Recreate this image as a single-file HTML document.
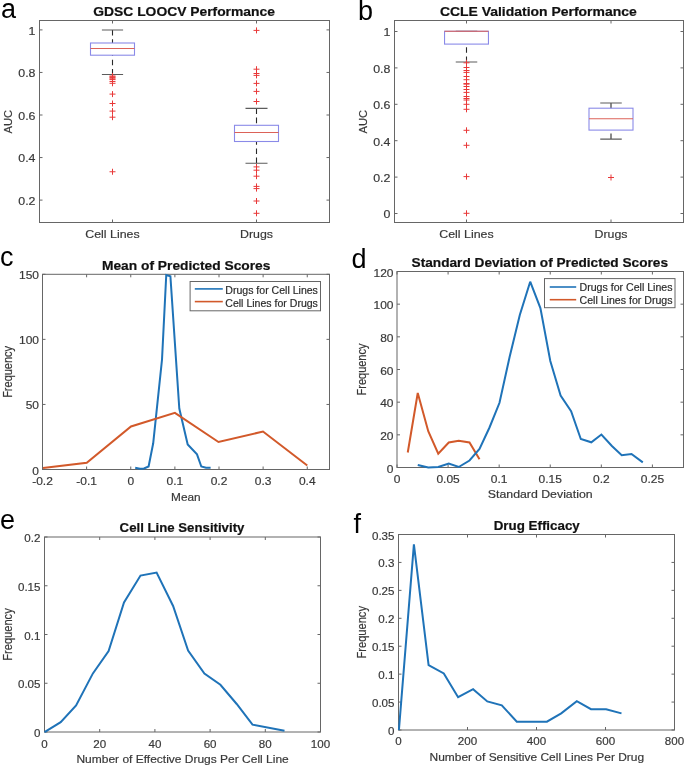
<!DOCTYPE html><html><head><meta charset="utf-8"><style>html,body{margin:0;padding:0;background:#fff;}svg{display:block;filter:blur(0.3px);}text{font-family:"Liberation Sans",sans-serif;}</style></head><body>
<svg width="685" height="767" viewBox="0 0 685 767">
<rect width="685" height="767" fill="#fff"/>
<text x="1.00" y="17.70" font-size="27" text-anchor="start" fill="#000">a</text>
<text x="358.00" y="20.40" font-size="27" text-anchor="start" fill="#000">b</text>
<text x="0.00" y="265.70" font-size="27" text-anchor="start" fill="#000">c</text>
<text x="351.50" y="267.80" font-size="27" text-anchor="start" fill="#000">d</text>
<text x="0.00" y="528.90" font-size="27" text-anchor="start" fill="#000">e</text>
<text x="353.50" y="532.70" font-size="27" text-anchor="start" fill="#000">f</text>
<path d="M112.50 222.50v-3.0M112.50 20.50v3.0M256.50 222.50v-3.0M256.50 20.50v3.0M39.50 200.10h3.0M329.50 200.10h-3.0M39.50 157.55h3.0M329.50 157.55h-3.0M39.50 115.00h3.0M329.50 115.00h-3.0M39.50 72.45h3.0M329.50 72.45h-3.0M39.50 29.90h3.0M329.50 29.90h-3.0" stroke="#666" stroke-width="1" fill="none"/>
<rect x="39.50" y="20.50" width="290.00" height="202.00" stroke="#666" stroke-width="1" fill="none"/>
<text x="35.50" y="205.00" font-size="11.8" text-anchor="end" fill="#383838" textLength="17.22" lengthAdjust="spacingAndGlyphs" stroke="#383838" stroke-width="0.18">0.2</text>
<text x="35.50" y="162.45" font-size="11.8" text-anchor="end" fill="#383838" textLength="17.22" lengthAdjust="spacingAndGlyphs" stroke="#383838" stroke-width="0.18">0.4</text>
<text x="35.50" y="119.90" font-size="11.8" text-anchor="end" fill="#383838" textLength="17.22" lengthAdjust="spacingAndGlyphs" stroke="#383838" stroke-width="0.18">0.6</text>
<text x="35.50" y="77.35" font-size="11.8" text-anchor="end" fill="#383838" textLength="17.22" lengthAdjust="spacingAndGlyphs" stroke="#383838" stroke-width="0.18">0.8</text>
<text x="35.50" y="34.80" font-size="11.8" text-anchor="end" fill="#383838" textLength="6.89" lengthAdjust="spacingAndGlyphs" stroke="#383838" stroke-width="0.18">1</text>
<text x="112.50" y="238.10" font-size="11.8" text-anchor="middle" fill="#383838" textLength="54.41" lengthAdjust="spacingAndGlyphs" stroke="#383838" stroke-width="0.18">Cell Lines</text>
<text x="256.50" y="238.10" font-size="11.8" text-anchor="middle" fill="#383838" textLength="33.05" lengthAdjust="spacingAndGlyphs" stroke="#383838" stroke-width="0.18">Drugs</text>
<text x="0" y="0" font-size="11.1" text-anchor="middle" fill="#383838" stroke="#383838" stroke-width="0.18" transform="translate(11.60 121.70) scale(1.05 1) rotate(-90)">AUC</text>
<text x="184.10" y="15.50" font-size="12.6" text-anchor="middle" fill="#111" font-weight="bold" textLength="181.60" lengthAdjust="spacingAndGlyphs" stroke="#111" stroke-width="0.2">GDSC LOOCV Performance</text>
<path d="M112.50 30.00V43.00M112.50 74.50V55.20" stroke="#2a2a2a" stroke-width="1.1" stroke-dasharray="5.6,3.6" fill="none"/>
<path d="M101.90 30.00h21.2M101.90 74.50h21.2" stroke="#5c5c5c" stroke-width="1.1" fill="none"/>
<rect x="90.50" y="43.00" width="44.00" height="12.20" stroke="#8a8ae8" stroke-width="1.1" fill="none"/>
<path d="M90.50 48.50h44.0" stroke="#dc6258" stroke-width="1.1" fill="none"/>
<path d="M109.50 76.00h6.0M112.50 73.00v6.0M109.50 76.80h6.0M112.50 73.80v6.0M109.50 77.60h6.0M112.50 74.60v6.0M109.50 78.80h6.0M112.50 75.80v6.0M109.50 79.60h6.0M112.50 76.60v6.0M109.50 81.50h6.0M112.50 78.50v6.0M109.50 83.30h6.0M112.50 80.30v6.0M109.50 94.10h6.0M112.50 91.10v6.0M109.50 103.50h6.0M112.50 100.50v6.0M109.50 111.10h6.0M112.50 108.10v6.0M109.50 117.20h6.0M112.50 114.20v6.0M109.50 171.75h6.0M112.50 168.75v6.0" stroke="#e83838" stroke-width="1" fill="none"/>
<path d="M256.50 108.40V125.30M256.50 163.20V141.50" stroke="#2a2a2a" stroke-width="1.1" stroke-dasharray="5.6,3.6" fill="none"/>
<path d="M245.50 108.40h22.0M245.50 163.20h22.0" stroke="#5c5c5c" stroke-width="1.1" fill="none"/>
<rect x="234.50" y="125.30" width="44.00" height="16.20" stroke="#8a8ae8" stroke-width="1.1" fill="none"/>
<path d="M234.50 132.50h44.0" stroke="#dc6258" stroke-width="1.1" fill="none"/>
<path d="M253.50 30.40h6.0M256.50 27.40v6.0M253.50 69.20h6.0M256.50 66.20v6.0M253.50 73.50h6.0M256.50 70.50v6.0M253.50 75.40h6.0M256.50 72.40v6.0M253.50 83.40h6.0M256.50 80.40v6.0M253.50 91.40h6.0M256.50 88.40v6.0M253.50 101.50h6.0M256.50 98.50v6.0M253.50 166.90h6.0M256.50 163.90v6.0M253.50 170.20h6.0M256.50 167.20v6.0M253.50 176.20h6.0M256.50 173.20v6.0M253.50 186.40h6.0M256.50 183.40v6.0M253.50 188.60h6.0M256.50 185.60v6.0M253.50 201.00h6.0M256.50 198.00v6.0M253.50 213.30h6.0M256.50 210.30v6.0" stroke="#e83838" stroke-width="1" fill="none"/>
<path d="M466.50 222.50v-3.0M466.50 20.50v3.0M611.00 222.50v-3.0M611.00 20.50v3.0M394.50 213.50h3.0M683.50 213.50h-3.0M394.50 177.10h3.0M683.50 177.10h-3.0M394.50 140.70h3.0M683.50 140.70h-3.0M394.50 104.30h3.0M683.50 104.30h-3.0M394.50 67.90h3.0M683.50 67.90h-3.0M394.50 31.50h3.0M683.50 31.50h-3.0" stroke="#666" stroke-width="1" fill="none"/>
<rect x="394.50" y="20.50" width="289.00" height="202.00" stroke="#666" stroke-width="1" fill="none"/>
<text x="390.40" y="218.40" font-size="11.8" text-anchor="end" fill="#383838" textLength="6.89" lengthAdjust="spacingAndGlyphs" stroke="#383838" stroke-width="0.18">0</text>
<text x="390.40" y="182.00" font-size="11.8" text-anchor="end" fill="#383838" textLength="17.22" lengthAdjust="spacingAndGlyphs" stroke="#383838" stroke-width="0.18">0.2</text>
<text x="390.40" y="145.60" font-size="11.8" text-anchor="end" fill="#383838" textLength="17.22" lengthAdjust="spacingAndGlyphs" stroke="#383838" stroke-width="0.18">0.4</text>
<text x="390.40" y="109.20" font-size="11.8" text-anchor="end" fill="#383838" textLength="17.22" lengthAdjust="spacingAndGlyphs" stroke="#383838" stroke-width="0.18">0.6</text>
<text x="390.40" y="72.80" font-size="11.8" text-anchor="end" fill="#383838" textLength="17.22" lengthAdjust="spacingAndGlyphs" stroke="#383838" stroke-width="0.18">0.8</text>
<text x="390.40" y="36.40" font-size="11.8" text-anchor="end" fill="#383838" textLength="6.89" lengthAdjust="spacingAndGlyphs" stroke="#383838" stroke-width="0.18">1</text>
<text x="466.50" y="238.10" font-size="11.8" text-anchor="middle" fill="#383838" textLength="54.41" lengthAdjust="spacingAndGlyphs" stroke="#383838" stroke-width="0.18">Cell Lines</text>
<text x="611.00" y="238.10" font-size="11.8" text-anchor="middle" fill="#383838" textLength="33.05" lengthAdjust="spacingAndGlyphs" stroke="#383838" stroke-width="0.18">Drugs</text>
<text x="0" y="0" font-size="11.1" text-anchor="middle" fill="#383838" stroke="#383838" stroke-width="0.18" transform="translate(366.60 121.70) scale(1.05 1) rotate(-90)">AUC</text>
<text x="538.30" y="15.60" font-size="12.6" text-anchor="middle" fill="#111" font-weight="bold" textLength="196.80" lengthAdjust="spacingAndGlyphs" stroke="#111" stroke-width="0.2">CCLE Validation Performance</text>
<path d="M466.50 31.30V31.30M466.50 62.00V44.10" stroke="#2a2a2a" stroke-width="1.1" stroke-dasharray="5.6,3.6" fill="none"/>
<path d="M455.75 31.30h21.5M455.75 62.00h21.5" stroke="#5c5c5c" stroke-width="1.1" fill="none"/>
<rect x="444.55" y="31.30" width="43.90" height="12.80" stroke="#8a8ae8" stroke-width="1.1" fill="none"/>
<path d="M444.55 31.30h43.9" stroke="#dc6258" stroke-width="1.1" fill="none"/>
<path d="M463.50 62.80h6.0M466.50 59.80v6.0M463.50 67.50h6.0M466.50 64.50v6.0M463.50 70.50h6.0M466.50 67.50v6.0M463.50 72.40h6.0M466.50 69.40v6.0M463.50 76.50h6.0M466.50 73.50v6.0M463.50 79.70h6.0M466.50 76.70v6.0M463.50 83.60h6.0M466.50 80.60v6.0M463.50 84.10h6.0M466.50 81.10v6.0M463.50 86.50h6.0M466.50 83.50v6.0M463.50 89.50h6.0M466.50 86.50v6.0M463.50 92.40h6.0M466.50 89.40v6.0M463.50 96.50h6.0M466.50 93.50v6.0M463.50 98.50h6.0M466.50 95.50v6.0M463.50 100.00h6.0M466.50 97.00v6.0M463.50 104.30h6.0M466.50 101.30v6.0M463.50 109.30h6.0M466.50 106.30v6.0M463.50 130.30h6.0M466.50 127.30v6.0M463.50 145.30h6.0M466.50 142.30v6.0M463.50 176.60h6.0M466.50 173.60v6.0M463.50 213.30h6.0M466.50 210.30v6.0" stroke="#e83838" stroke-width="1" fill="none"/>
<path d="M611.00 103.00V108.20M611.00 139.10V130.10" stroke="#2a2a2a" stroke-width="1.1" stroke-dasharray="5.6,3.6" fill="none"/>
<path d="M600.25 103.00h21.5M600.25 139.10h21.5" stroke="#5c5c5c" stroke-width="1.1" fill="none"/>
<rect x="589.00" y="108.20" width="44.00" height="21.90" stroke="#8a8ae8" stroke-width="1.1" fill="none"/>
<path d="M589.00 118.70h44.0" stroke="#dc6258" stroke-width="1.1" fill="none"/>
<path d="M608.00 177.50h6.0M611.00 174.50v6.0" stroke="#e83838" stroke-width="1" fill="none"/>
<path d="M42.50 469.50v-3.0M42.50 274.30v3.0M86.62 469.50v-3.0M86.62 274.30v3.0M130.75 469.50v-3.0M130.75 274.30v3.0M174.88 469.50v-3.0M174.88 274.30v3.0M219.00 469.50v-3.0M219.00 274.30v3.0M263.12 469.50v-3.0M263.12 274.30v3.0M307.25 469.50v-3.0M307.25 274.30v3.0M42.50 469.50h3.0M329.50 469.50h-3.0M42.50 404.44h3.0M329.50 404.44h-3.0M42.50 339.37h3.0M329.50 339.37h-3.0M42.50 274.31h3.0M329.50 274.31h-3.0" stroke="#666" stroke-width="1" fill="none"/>
<rect x="42.50" y="274.30" width="287.00" height="195.20" stroke="#666" stroke-width="1" fill="none"/>
<text x="42.50" y="484.80" font-size="10.8" text-anchor="middle" fill="#383838" textLength="20.66" lengthAdjust="spacingAndGlyphs" stroke="#383838" stroke-width="0.18">-0.2</text>
<text x="86.62" y="484.80" font-size="10.8" text-anchor="middle" fill="#383838" textLength="20.66" lengthAdjust="spacingAndGlyphs" stroke="#383838" stroke-width="0.18">-0.1</text>
<text x="130.75" y="484.80" font-size="10.8" text-anchor="middle" fill="#383838" textLength="6.67" lengthAdjust="spacingAndGlyphs" stroke="#383838" stroke-width="0.18">0</text>
<text x="174.88" y="484.80" font-size="10.8" text-anchor="middle" fill="#383838" textLength="16.67" lengthAdjust="spacingAndGlyphs" stroke="#383838" stroke-width="0.18">0.1</text>
<text x="219.00" y="484.80" font-size="10.8" text-anchor="middle" fill="#383838" textLength="16.67" lengthAdjust="spacingAndGlyphs" stroke="#383838" stroke-width="0.18">0.2</text>
<text x="263.12" y="484.80" font-size="10.8" text-anchor="middle" fill="#383838" textLength="16.67" lengthAdjust="spacingAndGlyphs" stroke="#383838" stroke-width="0.18">0.3</text>
<text x="307.25" y="484.80" font-size="10.8" text-anchor="middle" fill="#383838" textLength="16.67" lengthAdjust="spacingAndGlyphs" stroke="#383838" stroke-width="0.18">0.4</text>
<text x="39.00" y="474.50" font-size="10.8" text-anchor="end" fill="#383838" textLength="6.67" lengthAdjust="spacingAndGlyphs" stroke="#383838" stroke-width="0.18">0</text>
<text x="39.00" y="409.44" font-size="10.8" text-anchor="end" fill="#383838" textLength="13.33" lengthAdjust="spacingAndGlyphs" stroke="#383838" stroke-width="0.18">50</text>
<text x="39.00" y="344.37" font-size="10.8" text-anchor="end" fill="#383838" textLength="20.00" lengthAdjust="spacingAndGlyphs" stroke="#383838" stroke-width="0.18">100</text>
<text x="39.00" y="279.31" font-size="10.8" text-anchor="end" fill="#383838" textLength="20.00" lengthAdjust="spacingAndGlyphs" stroke="#383838" stroke-width="0.18">150</text>
<text x="185.90" y="500.70" font-size="10.8" text-anchor="middle" fill="#383838" textLength="29.60" lengthAdjust="spacingAndGlyphs" stroke="#383838" stroke-width="0.18">Mean</text>
<text x="0" y="0" font-size="11.0" text-anchor="middle" fill="#383838" stroke="#383838" stroke-width="0.18" transform="translate(12.30 371.90) scale(1.08 1) rotate(-90)">Frequency</text>
<text x="186.20" y="269.50" font-size="12.6" text-anchor="middle" fill="#111" font-weight="bold" textLength="168.50" lengthAdjust="spacingAndGlyphs" stroke="#111" stroke-width="0.2">Mean of Predicted Scores</text>
<polyline points="135.20,467.80 139.90,468.80 144.00,468.50 148.60,466.50 153.20,443.30 162.00,359.60 166.25,275.00 170.40,276.30 179.30,408.50 187.70,444.50 197.00,454.40 201.30,466.50 206.00,467.80 210.60,467.80" stroke="#1f73b8" stroke-width="2.0" fill="none" stroke-linejoin="miter" stroke-miterlimit="2.2"/>
<polyline points="43.00,468.00 86.75,462.75 131.00,426.50 174.90,412.90 218.50,442.00 263.00,431.50 307.25,465.50" stroke="#d2592a" stroke-width="2.0" fill="none" stroke-linejoin="miter" stroke-miterlimit="2.2"/>
<rect x="190.1" y="281.5" width="130.4" height="29.3" fill="#fff" stroke="#666" stroke-width="1"/>
<path d="M194.8 288.9H222.8" stroke="#1f73b8" stroke-width="1.6"/>
<path d="M194.8 301.6H222.8" stroke="#d2592a" stroke-width="1.6"/>
<text x="225.30" y="293.60" font-size="10.0" text-anchor="start" fill="#2a2a2a" textLength="92.60" lengthAdjust="spacingAndGlyphs" stroke="#2a2a2a" stroke-width="0.18">Drugs for Cell Lines</text>
<text x="225.30" y="306.60" font-size="10.0" text-anchor="start" fill="#2a2a2a" textLength="92.60" lengthAdjust="spacingAndGlyphs" stroke="#2a2a2a" stroke-width="0.18">Cell Lines for Drugs</text>
<path d="M397.00 467.50v-3.0M397.00 271.50v3.0M448.08 467.50v-3.0M448.08 271.50v3.0M499.16 467.50v-3.0M499.16 271.50v3.0M550.24 467.50v-3.0M550.24 271.50v3.0M601.32 467.50v-3.0M601.32 271.50v3.0M652.40 467.50v-3.0M652.40 271.50v3.0M397.00 467.50h3.0M683.50 467.50h-3.0M397.00 434.83h3.0M683.50 434.83h-3.0M397.00 402.17h3.0M683.50 402.17h-3.0M397.00 369.50h3.0M683.50 369.50h-3.0M397.00 336.84h3.0M683.50 336.84h-3.0M397.00 304.17h3.0M683.50 304.17h-3.0M397.00 271.50h3.0M683.50 271.50h-3.0" stroke="#666" stroke-width="1" fill="none"/>
<rect x="397.00" y="271.50" width="286.50" height="196.00" stroke="#666" stroke-width="1" fill="none"/>
<text x="397.00" y="482.60" font-size="10.8" text-anchor="middle" fill="#383838" textLength="6.67" lengthAdjust="spacingAndGlyphs" stroke="#383838" stroke-width="0.18">0</text>
<text x="448.08" y="482.60" font-size="10.8" text-anchor="middle" fill="#383838" textLength="23.33" lengthAdjust="spacingAndGlyphs" stroke="#383838" stroke-width="0.18">0.05</text>
<text x="499.16" y="482.60" font-size="10.8" text-anchor="middle" fill="#383838" textLength="16.67" lengthAdjust="spacingAndGlyphs" stroke="#383838" stroke-width="0.18">0.1</text>
<text x="550.24" y="482.60" font-size="10.8" text-anchor="middle" fill="#383838" textLength="23.33" lengthAdjust="spacingAndGlyphs" stroke="#383838" stroke-width="0.18">0.15</text>
<text x="601.32" y="482.60" font-size="10.8" text-anchor="middle" fill="#383838" textLength="16.67" lengthAdjust="spacingAndGlyphs" stroke="#383838" stroke-width="0.18">0.2</text>
<text x="652.40" y="482.60" font-size="10.8" text-anchor="middle" fill="#383838" textLength="23.33" lengthAdjust="spacingAndGlyphs" stroke="#383838" stroke-width="0.18">0.25</text>
<text x="393.50" y="472.50" font-size="10.8" text-anchor="end" fill="#383838" textLength="6.67" lengthAdjust="spacingAndGlyphs" stroke="#383838" stroke-width="0.18">0</text>
<text x="393.50" y="439.83" font-size="10.8" text-anchor="end" fill="#383838" textLength="13.33" lengthAdjust="spacingAndGlyphs" stroke="#383838" stroke-width="0.18">20</text>
<text x="393.50" y="407.17" font-size="10.8" text-anchor="end" fill="#383838" textLength="13.33" lengthAdjust="spacingAndGlyphs" stroke="#383838" stroke-width="0.18">40</text>
<text x="393.50" y="374.50" font-size="10.8" text-anchor="end" fill="#383838" textLength="13.33" lengthAdjust="spacingAndGlyphs" stroke="#383838" stroke-width="0.18">60</text>
<text x="393.50" y="341.84" font-size="10.8" text-anchor="end" fill="#383838" textLength="13.33" lengthAdjust="spacingAndGlyphs" stroke="#383838" stroke-width="0.18">80</text>
<text x="393.50" y="309.17" font-size="10.8" text-anchor="end" fill="#383838" textLength="20.00" lengthAdjust="spacingAndGlyphs" stroke="#383838" stroke-width="0.18">100</text>
<text x="393.50" y="276.50" font-size="10.8" text-anchor="end" fill="#383838" textLength="20.00" lengthAdjust="spacingAndGlyphs" stroke="#383838" stroke-width="0.18">120</text>
<text x="540.20" y="498.40" font-size="10.8" text-anchor="middle" fill="#383838" textLength="104.80" lengthAdjust="spacingAndGlyphs" stroke="#383838" stroke-width="0.18">Standard Deviation</text>
<text x="0" y="0" font-size="11.0" text-anchor="middle" fill="#383838" stroke="#383838" stroke-width="0.18" transform="translate(366.30 369.50) scale(1.08 1) rotate(-90)">Frequency</text>
<text x="539.80" y="266.50" font-size="12.6" text-anchor="middle" fill="#111" font-weight="bold" textLength="256.50" lengthAdjust="spacingAndGlyphs" stroke="#111" stroke-width="0.2">Standard Deviation of Predicted Scores</text>
<polyline points="407.75,452.50 417.75,393.00 428.25,431.25 438.25,453.75 448.75,442.50 458.75,440.75 469.50,442.50 479.50,459.25" stroke="#d2592a" stroke-width="2.0" fill="none" stroke-linejoin="miter" stroke-miterlimit="2.2"/>
<polyline points="417.75,465.00 428.25,467.50 438.25,467.00 448.75,463.50 458.75,467.00 469.50,460.50 479.50,449.00 489.50,427.50 499.50,402.80 509.60,357.00 519.80,315.00 530.20,281.70 540.40,308.10 550.30,361.00 560.60,395.60 571.10,411.20 580.80,439.00 591.30,442.30 601.40,434.50 611.90,446.00 621.70,455.30 631.50,454.00 642.80,462.40" stroke="#1f73b8" stroke-width="2.0" fill="none" stroke-linejoin="miter" stroke-miterlimit="2.2"/>
<rect x="544.5" y="278.6" width="130.5" height="29.1" fill="#fff" stroke="#666" stroke-width="1"/>
<path d="M549.75 287H576.2" stroke="#1f73b8" stroke-width="1.6"/>
<path d="M549.75 299.7H576.2" stroke="#d2592a" stroke-width="1.6"/>
<text x="579.50" y="291.40" font-size="10.0" text-anchor="start" fill="#2a2a2a" textLength="93.00" lengthAdjust="spacingAndGlyphs" stroke="#2a2a2a" stroke-width="0.18">Drugs for Cell Lines</text>
<text x="579.50" y="304.30" font-size="10.0" text-anchor="start" fill="#2a2a2a" textLength="93.00" lengthAdjust="spacingAndGlyphs" stroke="#2a2a2a" stroke-width="0.18">Cell Lines for Drugs</text>
<path d="M44.50 732.00v-3.0M44.50 537.00v3.0M99.70 732.00v-3.0M99.70 537.00v3.0M154.90 732.00v-3.0M154.90 537.00v3.0M210.10 732.00v-3.0M210.10 537.00v3.0M265.30 732.00v-3.0M265.30 537.00v3.0M320.50 732.00v-3.0M320.50 537.00v3.0M44.50 732.00h3.0M320.50 732.00h-3.0M44.50 683.25h3.0M320.50 683.25h-3.0M44.50 634.50h3.0M320.50 634.50h-3.0M44.50 585.75h3.0M320.50 585.75h-3.0M44.50 537.00h3.0M320.50 537.00h-3.0" stroke="#666" stroke-width="1" fill="none"/>
<rect x="44.50" y="537.00" width="276.00" height="195.00" stroke="#666" stroke-width="1" fill="none"/>
<text x="44.50" y="747.80" font-size="11.2" text-anchor="middle" fill="#383838" textLength="6.45" lengthAdjust="spacingAndGlyphs" stroke="#383838" stroke-width="0.18">0</text>
<text x="99.70" y="747.80" font-size="11.2" text-anchor="middle" fill="#383838" textLength="12.89" lengthAdjust="spacingAndGlyphs" stroke="#383838" stroke-width="0.18">20</text>
<text x="154.90" y="747.80" font-size="11.2" text-anchor="middle" fill="#383838" textLength="12.89" lengthAdjust="spacingAndGlyphs" stroke="#383838" stroke-width="0.18">40</text>
<text x="210.10" y="747.80" font-size="11.2" text-anchor="middle" fill="#383838" textLength="12.89" lengthAdjust="spacingAndGlyphs" stroke="#383838" stroke-width="0.18">60</text>
<text x="265.30" y="747.80" font-size="11.2" text-anchor="middle" fill="#383838" textLength="12.89" lengthAdjust="spacingAndGlyphs" stroke="#383838" stroke-width="0.18">80</text>
<text x="320.50" y="747.80" font-size="11.2" text-anchor="middle" fill="#383838" textLength="19.34" lengthAdjust="spacingAndGlyphs" stroke="#383838" stroke-width="0.18">100</text>
<text x="40.50" y="737.00" font-size="11.2" text-anchor="end" fill="#383838" textLength="6.45" lengthAdjust="spacingAndGlyphs" stroke="#383838" stroke-width="0.18">0</text>
<text x="40.50" y="688.25" font-size="11.2" text-anchor="end" fill="#383838" textLength="22.56" lengthAdjust="spacingAndGlyphs" stroke="#383838" stroke-width="0.18">0.05</text>
<text x="40.50" y="639.50" font-size="11.2" text-anchor="end" fill="#383838" textLength="16.11" lengthAdjust="spacingAndGlyphs" stroke="#383838" stroke-width="0.18">0.1</text>
<text x="40.50" y="590.75" font-size="11.2" text-anchor="end" fill="#383838" textLength="22.56" lengthAdjust="spacingAndGlyphs" stroke="#383838" stroke-width="0.18">0.15</text>
<text x="40.50" y="542.00" font-size="11.2" text-anchor="end" fill="#383838" textLength="16.11" lengthAdjust="spacingAndGlyphs" stroke="#383838" stroke-width="0.18">0.2</text>
<text x="182.60" y="763.00" font-size="11.2" text-anchor="middle" fill="#383838" textLength="212.30" lengthAdjust="spacingAndGlyphs" stroke="#383838" stroke-width="0.18">Number of Effective Drugs Per Cell Line</text>
<text x="0" y="0" font-size="11.1" text-anchor="middle" fill="#383838" stroke="#383838" stroke-width="0.18" transform="translate(12.20 634.50) scale(1.08 1) rotate(-90)">Frequency</text>
<text x="182.00" y="532.10" font-size="12.6" text-anchor="middle" fill="#111" font-weight="bold" textLength="124.80" lengthAdjust="spacingAndGlyphs" stroke="#111" stroke-width="0.2">Cell Line Sensitivity</text>
<polyline points="44.50,732.10 60.70,722.10 76.10,705.40 92.90,673.40 108.60,651.00 124.00,602.40 140.50,575.60 156.60,572.60 173.10,606.00 188.10,650.60 204.40,673.50 220.40,684.80 236.70,704.00 252.50,724.70 284.50,730.80" stroke="#1f73b8" stroke-width="2.0" fill="none" stroke-linejoin="miter" stroke-miterlimit="2.2"/>
<path d="M398.50 730.00v-3.0M398.50 534.50v3.0M467.50 730.00v-3.0M467.50 534.50v3.0M536.50 730.00v-3.0M536.50 534.50v3.0M605.50 730.00v-3.0M605.50 534.50v3.0M674.50 730.00v-3.0M674.50 534.50v3.0M398.50 730.00h3.0M674.50 730.00h-3.0M398.50 702.07h3.0M674.50 702.07h-3.0M398.50 674.14h3.0M674.50 674.14h-3.0M398.50 646.21h3.0M674.50 646.21h-3.0M398.50 618.29h3.0M674.50 618.29h-3.0M398.50 590.36h3.0M674.50 590.36h-3.0M398.50 562.43h3.0M674.50 562.43h-3.0M398.50 534.50h3.0M674.50 534.50h-3.0" stroke="#666" stroke-width="1" fill="none"/>
<rect x="398.50" y="534.50" width="276.00" height="195.50" stroke="#666" stroke-width="1" fill="none"/>
<text x="398.50" y="745.20" font-size="11.2" text-anchor="middle" fill="#383838" textLength="6.45" lengthAdjust="spacingAndGlyphs" stroke="#383838" stroke-width="0.18">0</text>
<text x="467.50" y="745.20" font-size="11.2" text-anchor="middle" fill="#383838" textLength="19.34" lengthAdjust="spacingAndGlyphs" stroke="#383838" stroke-width="0.18">200</text>
<text x="536.50" y="745.20" font-size="11.2" text-anchor="middle" fill="#383838" textLength="19.34" lengthAdjust="spacingAndGlyphs" stroke="#383838" stroke-width="0.18">400</text>
<text x="605.50" y="745.20" font-size="11.2" text-anchor="middle" fill="#383838" textLength="19.34" lengthAdjust="spacingAndGlyphs" stroke="#383838" stroke-width="0.18">600</text>
<text x="674.50" y="745.20" font-size="11.2" text-anchor="middle" fill="#383838" textLength="19.34" lengthAdjust="spacingAndGlyphs" stroke="#383838" stroke-width="0.18">800</text>
<text x="394.50" y="735.00" font-size="11.2" text-anchor="end" fill="#383838" textLength="6.45" lengthAdjust="spacingAndGlyphs" stroke="#383838" stroke-width="0.18">0</text>
<text x="394.50" y="707.07" font-size="11.2" text-anchor="end" fill="#383838" textLength="22.56" lengthAdjust="spacingAndGlyphs" stroke="#383838" stroke-width="0.18">0.05</text>
<text x="394.50" y="679.14" font-size="11.2" text-anchor="end" fill="#383838" textLength="16.11" lengthAdjust="spacingAndGlyphs" stroke="#383838" stroke-width="0.18">0.1</text>
<text x="394.50" y="651.21" font-size="11.2" text-anchor="end" fill="#383838" textLength="22.56" lengthAdjust="spacingAndGlyphs" stroke="#383838" stroke-width="0.18">0.15</text>
<text x="394.50" y="623.29" font-size="11.2" text-anchor="end" fill="#383838" textLength="16.11" lengthAdjust="spacingAndGlyphs" stroke="#383838" stroke-width="0.18">0.2</text>
<text x="394.50" y="595.36" font-size="11.2" text-anchor="end" fill="#383838" textLength="22.56" lengthAdjust="spacingAndGlyphs" stroke="#383838" stroke-width="0.18">0.25</text>
<text x="394.50" y="567.43" font-size="11.2" text-anchor="end" fill="#383838" textLength="16.11" lengthAdjust="spacingAndGlyphs" stroke="#383838" stroke-width="0.18">0.3</text>
<text x="394.50" y="539.50" font-size="11.2" text-anchor="end" fill="#383838" textLength="22.56" lengthAdjust="spacingAndGlyphs" stroke="#383838" stroke-width="0.18">0.35</text>
<text x="536.80" y="760.80" font-size="11.2" text-anchor="middle" fill="#383838" textLength="214.60" lengthAdjust="spacingAndGlyphs" stroke="#383838" stroke-width="0.18">Number of Sensitive Cell Lines Per Drug</text>
<text x="0" y="0" font-size="11.1" text-anchor="middle" fill="#383838" stroke="#383838" stroke-width="0.18" transform="translate(366.30 632.25) scale(1.08 1) rotate(-90)">Frequency</text>
<text x="536.75" y="529.50" font-size="12.6" text-anchor="middle" fill="#111" font-weight="bold" textLength="86.10" lengthAdjust="spacingAndGlyphs" stroke="#111" stroke-width="0.2">Drug Efficacy</text>
<polyline points="398.90,730.10 413.90,544.40 428.60,665.20 443.80,673.40 458.10,697.20 473.10,689.20 487.30,701.40 501.80,705.40 516.80,721.70 546.90,721.70 561.20,713.40 576.80,701.20 591.00,709.20 606.10,709.20 621.50,713.40" stroke="#1f73b8" stroke-width="2.0" fill="none" stroke-linejoin="miter" stroke-miterlimit="2.2"/>
</svg></body></html>
